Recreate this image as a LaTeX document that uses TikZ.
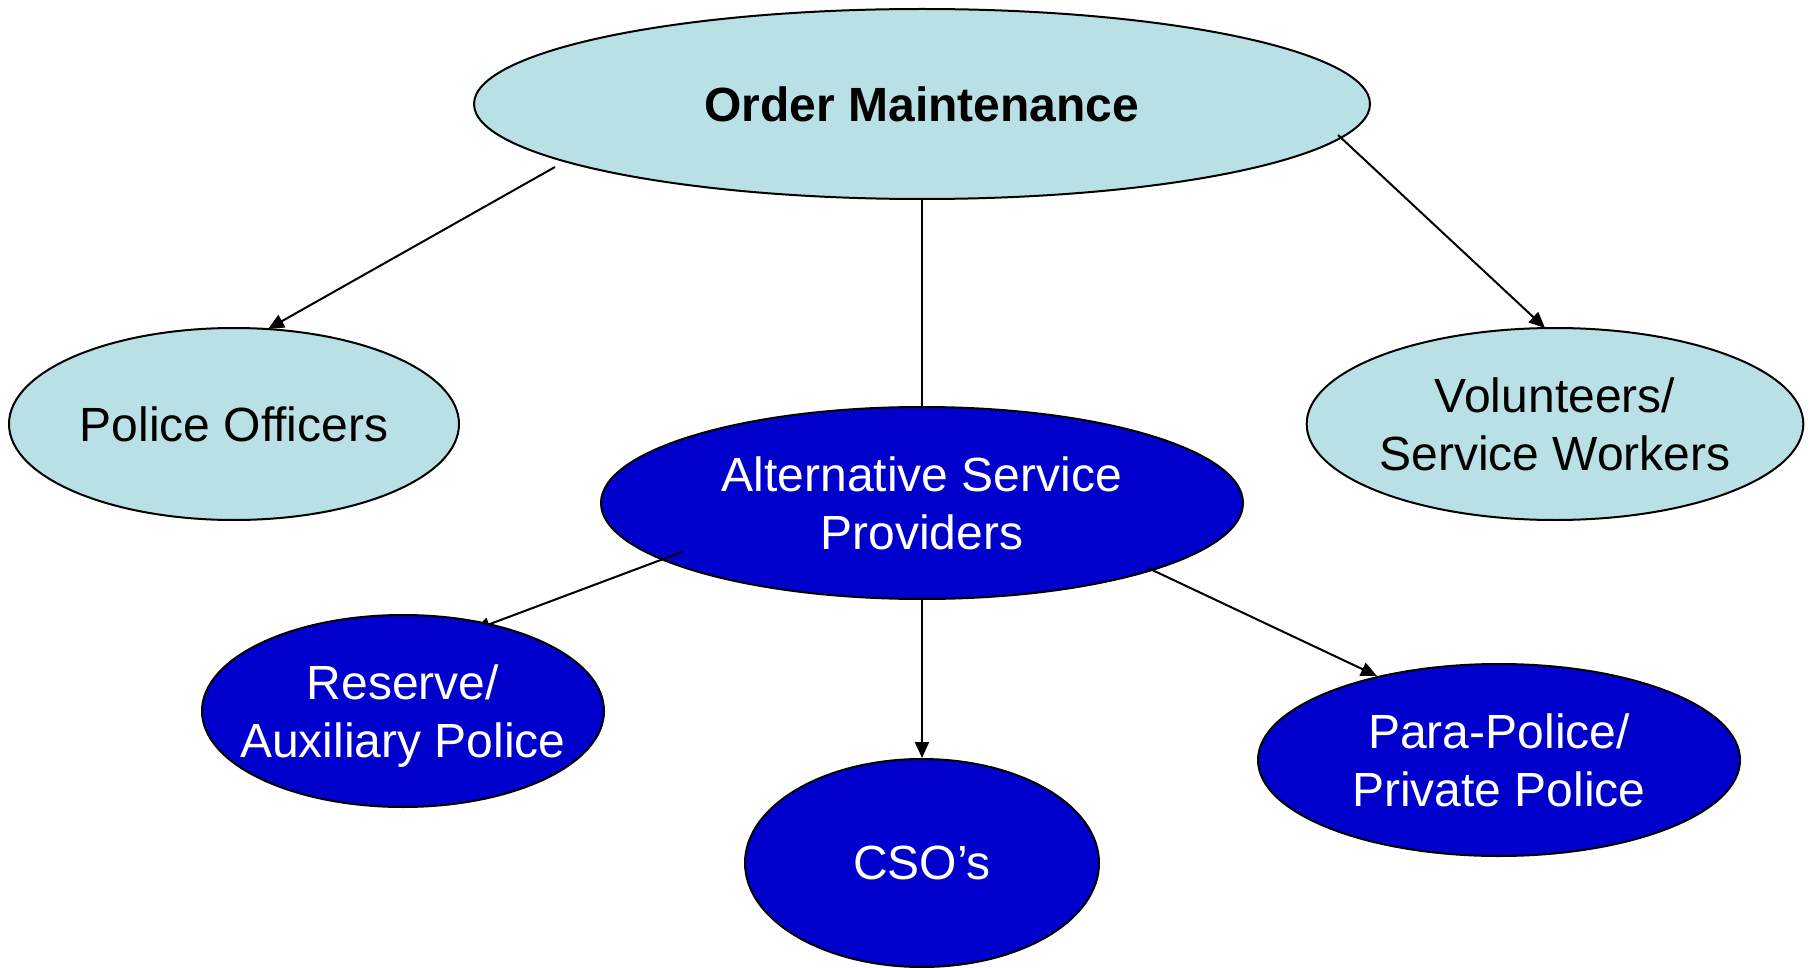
\documentclass[tikz,border=0pt]{standalone}
\usepackage{fontspec}
\setmainfont{Liberation Sans}
\usetikzlibrary{shapes.geometric,arrows.meta,calc}
\pgfdeclarelayer{front}
\pgfsetlayers{main,front}
\definecolor{lightteal}{HTML}{B9E0E4}
\definecolor{darkblue}{HTML}{0000CC}
\tikzset{
  oval/.style={ellipse, draw=black, line width=1pt, inner sep=0pt, align=center,
    font=\fontsize{24}{29}\selectfont},
  lightoval/.style={oval, fill=lightteal, text=black},
  darkoval/.style={oval, fill=darkblue, text=white},
  ovaltext/.style={align=center, inner sep=0pt, font=\fontsize{24}{29}\selectfont},
  conn/.style={draw=black, line width=1pt},
  arr/.style={conn, -{Triangle[length=8pt,width=7pt]}}
}
\begin{document}
\begin{tikzpicture}[x=0.5pt,y=-0.5pt]
\useasboundingbox (0,0) rectangle (1810,968);
\node[lightoval, minimum width=448pt, minimum height=95pt, font=\fontsize{24}{29}\selectfont\bfseries] (om) at (922,104) {Order Maintenance};
\node[lightoval, minimum width=225pt, minimum height=96pt] (po) at (234,424) {Police Officers};
\node[lightoval, minimum width=248pt, minimum height=96pt] (vol) at (1555,424) {Volunteers/\\Service Workers};
\node[darkoval, minimum width=321pt, minimum height=96pt] (alt) at (922,503) {Alternative Service\\Providers};
\begin{pgfonlayer}{front}
\node[darkoval, minimum width=201pt, minimum height=96pt] (res) at (403,711) {};
\node[ovaltext, text=white] (restext) at ($(res.center)+(0,5)$) {Reserve/\\Auxiliary Police};
\end{pgfonlayer}
\node[darkoval, minimum width=177pt, minimum height=104pt] (cso) at (922,863) {CSO’s};
\node[darkoval, minimum width=241pt, minimum height=96pt] (pp) at (1499,760) {Para-Police/\\Private Police};

\draw[arr] ($(om.center)+(-367,63)$) -- ($(po.center)+(34,-95)$);
\draw[conn] (om.south) -- (alt.north);
\draw[arr] ($(om.center)+(416,31)$) -- ($(vol.center)+(-10,-96)$);
\draw[arr] ($(alt.center)+(-240,49)$) -- ($(res.center)+(71,-81)$);
\draw[arr] (alt.south) -- (cso.north);
\draw[arr] ($(alt.center)+(226,65)$) -- ($(pp.center)+(-122,-84)$);
\end{tikzpicture}
\end{document}
